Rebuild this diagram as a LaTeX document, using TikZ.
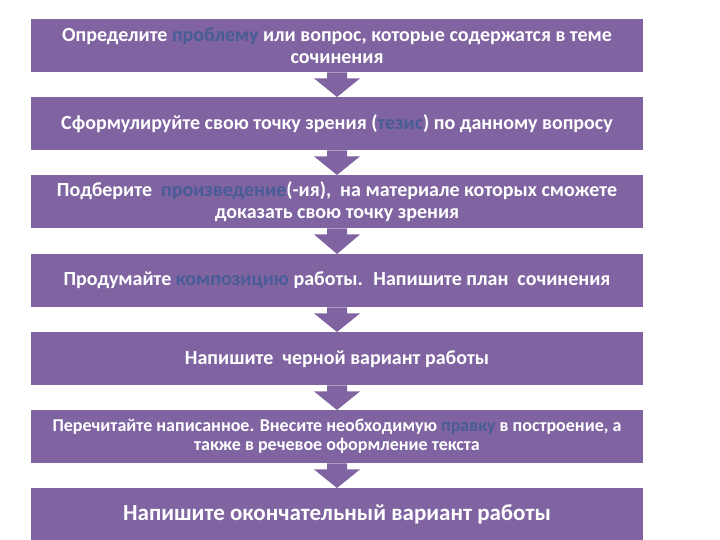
\documentclass[tikz,border=0pt]{standalone}
\usepackage{fontspec}
\setmainfont{Carlito}
\usetikzlibrary{calc}
\definecolor{boxpurple}{RGB}{128,100,162}
\definecolor{hl}{RGB}{72,92,150}
\newcommand{\hlw}[1]{\textcolor{hl}{#1}}
\begin{document}
\begin{tikzpicture}[x=1pt,y=-1pt,
  stepbox/.style={fill=boxpurple, minimum width=612pt, minimum height=53pt,
    inner sep=0pt, text=white, font=\bfseries\fontsize{20}{22}\selectfont,
    align=center, anchor=north},
  flowarrow/.style={fill=boxpurple}]
\useasboundingbox (0,0) rectangle (720,540);
\node[stepbox] (b1) at (337,19) {Определите \hlw{проблему} или вопрос, которые содержатся в теме\\сочинения};
\node[stepbox] (b2) at (337,97) {Сформулируйте свою точку зрения (\hlw{тезис}) по данному вопросу};
\node[stepbox] (b3) at (337,175) {Подберите \ \hlw{произведение}(-ия), \ на материале которых сможете\\доказать свою точку зрения};
\node[stepbox] (b4) at (337,254) {Продумайте \hlw{композицию} работы. \ Напишите план \ сочинения};
\node[stepbox] (b5) at (337,332) {Напишите \ черной вариант работы};
\node[stepbox, font=\bfseries\fontsize{18}{19}\selectfont] (b6) at (337,410) {Перечитайте написанное. Внесите необходимую \hlw{правку} в построение, а\\также в речевое оформление текста};
\node[stepbox, font=\bfseries\fontsize{23}{26}\selectfont] (b7) at (337,488) {Напишите окончательный вариант работы};
\foreach \a/\b in {b1/b2,b2/b3,b3/b4,b4/b5,b5/b6,b6/b7}{
  \fill[flowarrow] ($(\a.south)+(-10,0)$) -- ($(\a.south)+(10,0)$) -- ($(\a.south)+(10,6)$)
    -- ($(\a.south)+(23,6)$) -- (\b.north) -- ($(\a.south)+(-23,6)$) -- ($(\a.south)+(-10,6)$) -- cycle;
}
\end{tikzpicture}
\end{document}
